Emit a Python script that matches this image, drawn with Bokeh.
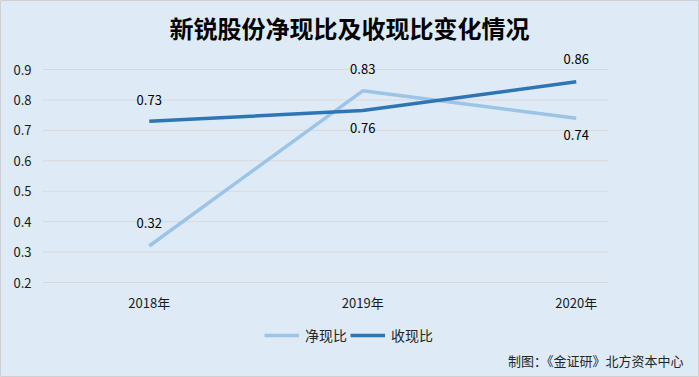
from bokeh.plotting import figure
from bokeh.models import Label, Legend, LegendItem, ColumnDataSource, Range1d
from bokeh.core.properties import value
from bokeh.embed import file_html
from bokeh.resources import INLINE

years = ["2018年", "2019年", "2020年"]
jingxianbi = [0.32, 0.83, 0.74]
shouxianbi = [0.73, 0.765, 0.86]
jing_labels = ["0.32", "0.83", "0.74"]
shou_labels = ["0.73", "0.76", "0.86"]
y_ticks = [0.2, 0.3, 0.4, 0.5, 0.6, 0.7, 0.8, 0.9]

FONT = "Noto Sans CJK SC"
BG = "#DEEBF7"
LIGHT = "#9DC3E6"
DARK = "#2E75B6"
W, H = 699, 377

# pixel layout of plot area (reference)
PX_L, PX_R = 42, 608
PY_TOP, PY_BOT = 69, 282
XPX = 213.5               # px per category
YPX = (PY_BOT - PY_TOP) / 0.7  # px per unit

x_plot_lo = -0.5 + (42 + 106 - 148) / XPX
x_plot_hi = x_plot_lo + (PX_R - PX_L) / XPX
x_lo = x_plot_lo - PX_L / XPX
x_hi = x_plot_lo + (W - PX_L) / XPX
y_lo = 0.2 - (H - PY_BOT) / YPX
y_hi = 0.2 + PY_BOT / YPX

xs = list(range(len(years)))

p = figure(width=W, height=H, output_backend="svg", toolbar_location=None,
           x_range=Range1d(x_lo, x_hi), y_range=Range1d(y_lo, y_hi),
           min_border=0)
p.background_fill_color = BG
p.border_fill_color = BG
p.outline_line_color = "#D0D0D0"
p.axis.visible = False
p.grid.visible = False

# gridlines
p.segment(x0=[x_plot_lo] * len(y_ticks), x1=[x_plot_hi] * len(y_ticks), y0=y_ticks, y1=y_ticks,
          line_color="#D9D9D9", line_width=1)

# y tick labels
p.text(x=[x_plot_lo] * len(y_ticks), y=y_ticks, text=[f"{t:.1f}" for t in y_ticks],
       x_offset=-11, text_align="right", text_baseline="middle",
       text_font=value(FONT), text_font_size="13px", text_color="#1a1a1a")
# x tick labels
p.text(x=xs, y=[0.2] * len(xs), text=years, y_offset=20, text_align="center", text_baseline="middle",
       text_font=value(FONT), text_font_size="13px", text_color="#1a1a1a")

src = ColumnDataSource(dict(x=xs, j=jingxianbi, s=shouxianbi, jl=jing_labels, sl=shou_labels,
                            jo=[-23, -22, 17], so=[-21, 17, -23]))
r1 = p.line("x", "j", source=src, line_color=LIGHT, line_width=3.5)
r2 = p.line("x", "s", source=src, line_color=DARK, line_width=3.5)

# data labels
p.text("x", "j", text="jl", source=src, text_align="center", text_baseline="middle",
       y_offset="jo", text_font=value(FONT), text_font_size="13px", text_color="#000000")
p.text("x", "s", text="sl", source=src, text_align="center", text_baseline="middle",
       y_offset="so", text_font=value(FONT), text_font_size="13px", text_color="#000000")

# title
p.add_layout(Label(x=349, y=H - 27, x_units="screen", y_units="screen", text="新锐股份净现比及收现比变化情况",
                   text_align="center", text_baseline="middle", text_font=FONT, text_font_size="24px",
                   text_font_style="bold", text_color="#000000"))
# credit
p.add_layout(Label(x=683, y=H - 360, x_units="screen", y_units="screen", text="制图：《金证研》北方资本中心",
                   text_align="right", text_baseline="middle", text_font=FONT, text_font_size="13px",
                   text_color="#262626"))

legend = Legend(items=[LegendItem(label="净现比", renderers=[r1]), LegendItem(label="收现比", renderers=[r2])],
                orientation="horizontal", location=(264, H - 345),
                glyph_width=35, glyph_height=20, label_standoff=6, spacing=3, padding=0, margin=0,
                background_fill_alpha=0, border_line_color=None,
                label_text_font=FONT, label_text_font_size="14px", label_text_color="#262626")
p.add_layout(legend, "center")

open("out.html", "w").write(file_html(p, INLINE))
